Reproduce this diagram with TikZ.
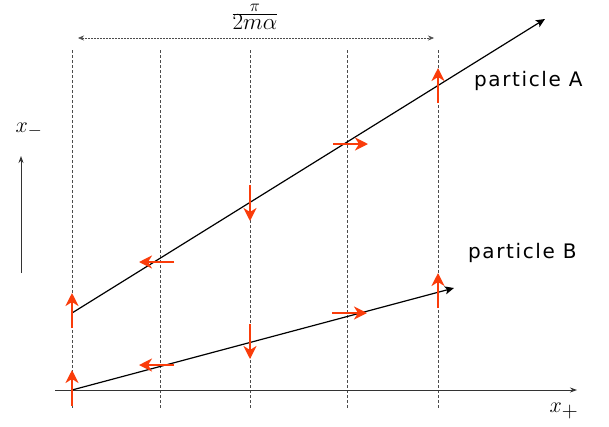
\RequirePackage{fix-cm}
\documentclass[tikz,border=0pt]{standalone}
\usepackage{fontspec}
\setsansfont{DejaVu Sans}
\usetikzlibrary{arrows.meta}
\definecolor{redarr}{RGB}{250,60,10}
\tikzset{
  guide/.style={draw=black!70, line width=0.6pt, dash pattern=on 3pt off 2pt},
  worldline/.style={draw=black, line width=1.2pt, -{Stealth[length=9pt,width=8pt,inset=2pt]}},
  axisline/.style={draw=black!80, line width=0.9pt, -{Stealth[length=7pt,width=5pt]}},
  spin/.style={draw=redarr, line width=2.8pt, -{Stealth[length=13pt,width=13pt,inset=4pt]}},
  lbl/.style={font=\sffamily\fontsize{20}{24}\selectfont\addfontfeatures{LetterSpace=8}, inner sep=0pt},
  mathlbl/.style={font=\fontsize{22}{26}\selectfont, inner sep=0pt},
}
\begin{document}
\begin{tikzpicture}[x=1pt,y=-1pt]
\useasboundingbox (0,0) rectangle (609,426);
% vertical guides
\foreach \xx [count=\i] in {72,160,250,347,438}{
  \coordinate (gt\i) at (\xx,50);
  \coordinate (gb\i) at (\xx,408);
  \draw[guide] (gt\i) -- (gb\i);
}
% width arrow and label
\coordinate (wl) at (78,38);
\coordinate (wr) at (434,38);
\draw[draw=black!70, line width=0.6pt, dash pattern=on 2pt off 1pt, {Stealth[length=6pt,width=5pt]}-{Stealth[length=6pt,width=5pt]}] (wl) -- (wr);
\node[font=\fontsize{23}{27}\selectfont, inner sep=0pt, anchor=base] (frac) at (255,20.3)
  {$\textstyle\frac{\mbox{\fontsize{17}{20}\selectfont$\pi$}}{\mbox{\fontsize{23}{27}\selectfont$2m\alpha$}}$};
% axes
\coordinate (ax0) at (55,390);
\coordinate (ax1) at (577,390);
\draw[axisline] (ax0) -- (ax1);
\node[mathlbl] (xp) at (564,411) {$x_{\mbox{\fontsize{22}{24}\selectfont$+$}}$};
\coordinate (vy0) at (21,273);
\coordinate (vy1) at (21,156);
\draw[axisline] (vy0) -- (vy1);
\node[mathlbl] (xm) at (29,130) {$x_{\mbox{\fontsize{18}{20}\selectfont$-$}}$};
% world lines
\coordinate (A0) at (72,313);
\coordinate (A1) at (545,19);
\coordinate (B0) at (72,390);
\coordinate (B1) at (454,288);
\draw[worldline] (A0) -- (A1);
\draw[worldline] (B0) -- (B1);
\node[lbl, anchor=base west] (pA) at (474,86) {particle A};
\node[lbl, anchor=base west] (pB) at (468,258) {particle B};
% spins on A
\draw[spin] (72,328) -- (72,293);
\draw[spin] (174,262) -- (139,262);
\draw[spin] (250,185) -- (250,221);
\draw[spin] (333,144) -- (368,144);
\draw[spin] (438,103) -- (438,68);
% spins on B
\draw[spin] (72,406) -- (72,370);
\draw[spin] (174,365) -- (139,365);
\draw[spin] (250,324) -- (250,359);
\draw[spin] (332,313) -- (367,313);
\draw[spin] (438,308) -- (438,273);
\end{tikzpicture}
\end{document}
